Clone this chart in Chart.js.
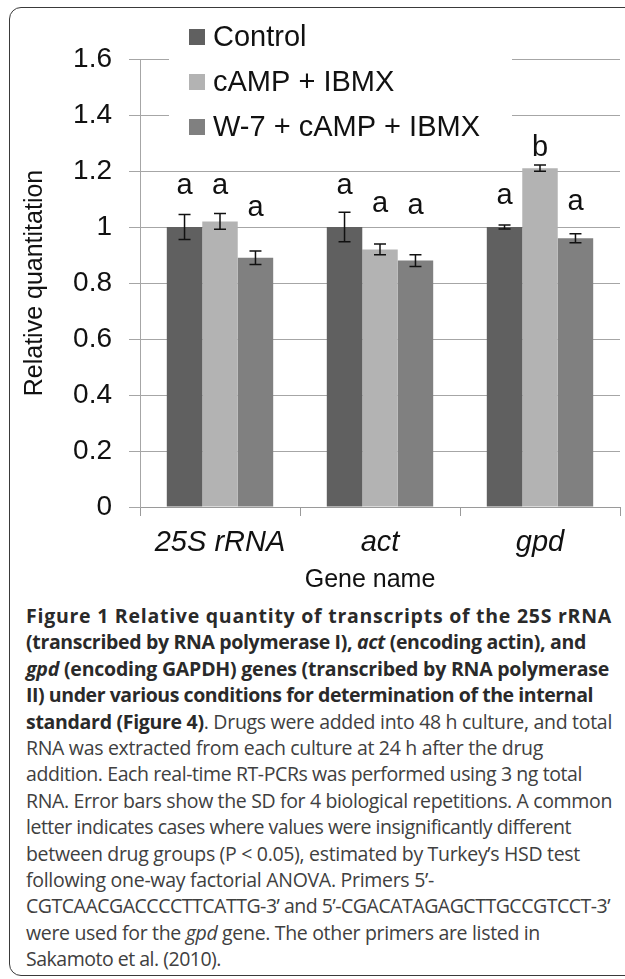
<!DOCTYPE html>
<html>
<head>
<meta charset="utf-8">
<script src="https://cdn.jsdelivr.net/npm/chart.js@4.4.1/dist/chart.umd.min.js"></script>
<style>
  html, body { margin: 0; padding: 0; background: #fff; width: 625px; height: 979px; overflow: hidden; }
  #frame { position: absolute; left: 9px; top: 7px; width: 660px; height: 969px; border: 1.5px solid #3a3a3a; border-radius: 12px; box-sizing: border-box; }
  #wrap { position: absolute; left: 0; top: 0; width: 625px; height: 600px; }
  #caption { position: absolute; left: 26px; top: 603px; font-family: "Open Sans", sans-serif; font-size: 19.5px; line-height: 26.4px; color: #404040; white-space: nowrap; }
  #caption div { display: block; width: max-content; }
  #caption b { font-weight: 700; color: #2a2a2a; }
</style>
</head>
<body>
<div id="frame"></div>
<div id="wrap"><canvas id="chart" width="625" height="600"></canvas></div>
<div id="caption">
<div data-right="612"><b>Figure 1 Relative quantity of transcripts of the 25S rRNA</b></div>
<div data-right="586"><b>(transcribed by RNA polymerase I), <i>act</i> (encoding actin), and</b></div>
<div data-right="609"><b><i>gpd</i> (encoding GAPDH) genes (transcribed by RNA polymerase</b></div>
<div data-right="593"><b>II) under various conditions for determination of the internal</b></div>
<div data-right="612"><b>standard (Figure 4)</b>. Drugs were added into 48 h culture, and total</div>
<div data-right="543">RNA was extracted from each culture at 24 h after the drug</div>
<div data-right="582">addition. Each real-time RT-PCRs was performed using 3 ng total</div>
<div data-right="612">RNA. Error bars show the SD for 4 biological repetitions. A common</div>
<div data-right="571">letter indicates cases where values were insignificantly different</div>
<div data-right="580">between drug groups (P &lt; 0.05), estimated by Turkey’s HSD test</div>
<div data-right="434">following one-way factorial ANOVA. Primers 5’-</div>
<div data-right="610">CGTCAACGACCCCTTCATTG-3’ and 5’-CGACATAGAGCTTGCCGTCCT-3’</div>
<div data-right="540">were used for the <i>gpd</i> gene. The other primers are listed in</div>
<div data-right="221">Sakamoto et al. (2010).</div>
</div>
<script>
// Genes and treatment groups
const genes = ['25S rRNA', 'act', 'gpd'];
const seriesNames = ['Control', 'cAMP + IBMX', 'W-7 + cAMP + IBMX'];

// Mean relative quantity per gene
const control = [1.00, 1.00, 1.00];
const campIbmx = [1.02, 0.92, 1.21];
const w7CampIbmx = [0.89, 0.88, 0.96];

// Standard deviations (4 biological repetitions)
const controlSD = [0.045, 0.053, 0.007];
const campIbmxSD = [0.028, 0.019, 0.011];
const w7CampIbmxSD = [0.024, 0.021, 0.016];

// Tukey HSD grouping letters
const controlLetters = ['a', 'a', 'a'];
const campIbmxLetters = ['a', 'a', 'b'];
const w7CampIbmxLetters = ['a', 'a', 'a'];

// Y-axis tick values
const yTicks = [0, 0.2, 0.4, 0.6, 0.8, 1.0, 1.2, 1.4, 1.6];

const FONT = '"Liberation Sans", Arial, sans-serif';

// Caption lines: spread each line to its wrap edge
(function fitCaption() {
  const box = document.getElementById('caption');
  const left = box.getBoundingClientRect().left;
  box.querySelectorAll('div[data-right]').forEach(line => {
    line.style.letterSpacing = '0px';
    const natural = line.getBoundingClientRect().width;
    const target = parseFloat(line.dataset.right) - left;
    const n = line.textContent.length;
    line.style.letterSpacing = ((target - natural) / n).toFixed(3) + 'px';
  });
})();

// Error bars with end caps
const errorBars = {
  id: 'errorBars',
  afterDatasetsDraw(chart) {
    const { ctx, scales: { y } } = chart;
    ctx.save();
    ctx.strokeStyle = '#111';
    ctx.lineWidth = 1.5;
    chart.data.datasets.forEach((ds, i) => {
      chart.getDatasetMeta(i).data.forEach((bar, j) => {
        const v = ds.data[j], sd = ds.sd[j];
        const yt = y.getPixelForValue(v + sd), yb = y.getPixelForValue(v - sd);
        const x = bar.x, cap = 6;
        ctx.beginPath();
        ctx.moveTo(x, yt); ctx.lineTo(x, yb);
        ctx.moveTo(x - cap, yt); ctx.lineTo(x + cap, yt);
        ctx.moveTo(x - cap, yb); ctx.lineTo(x + cap, yb);
        ctx.stroke();
      });
    });
    ctx.restore();
  }
};

// Significance letters above the bars
const groupLetters = {
  id: 'groupLetters',
  afterDatasetsDraw(chart, args, opts) {
    const { ctx, scales: { y } } = chart;
    ctx.save();
    ctx.fillStyle = '#111';
    ctx.font = opts.size + 'px ' + FONT;
    ctx.textAlign = 'center';
    ctx.textBaseline = 'alphabetic';
    chart.data.datasets.forEach((ds, i) => {
      chart.getDatasetMeta(i).data.forEach((bar, j) => {
        const yy = y.getPixelForValue(opts.baselines[i][j]);
        ctx.fillText(ds.letters[j], bar.x, yy);
      });
    });
    ctx.restore();
  }
};

// Legend on a white panel inside the plot
const boxLegend = {
  id: 'boxLegend',
  afterDraw(chart, args, opts) {
    const { ctx } = chart;
    ctx.save();
    ctx.fillStyle = '#fff';
    ctx.fillRect(opts.left, opts.top, opts.width, opts.height);
    ctx.font = opts.size + 'px ' + FONT;
    ctx.textBaseline = 'middle';
    ctx.textAlign = 'left';
    chart.data.datasets.forEach((ds, i) => {
      const cy = opts.firstY + i * opts.step;
      ctx.fillStyle = ds.backgroundColor;
      ctx.fillRect(opts.boxX, cy - opts.box / 2, opts.box, opts.box);
      ctx.fillStyle = '#111';
      ctx.fillText(ds.label, opts.boxX + opts.box + 8, cy + 1);
    });
    ctx.restore();
  }
};

// X-axis title, set slightly left of the plot centre
const xTitle = {
  id: 'xTitle',
  afterDraw(chart, args, opts) {
    const { ctx, chartArea } = chart;
    ctx.save();
    ctx.fillStyle = '#111';
    ctx.font = opts.size + 'px ' + FONT;
    ctx.textAlign = 'center';
    ctx.textBaseline = 'middle';
    ctx.fillText(opts.text, (chartArea.left + chartArea.right) / 2 + opts.shift, chartArea.bottom + opts.offset);
    ctx.restore();
  }
};

new Chart(document.getElementById('chart'), {
  type: 'bar',
  data: {
    labels: genes,
    datasets: [
      { label: seriesNames[0], data: control, sd: controlSD, letters: controlLetters, backgroundColor: '#606060' },
      { label: seriesNames[1], data: campIbmx, sd: campIbmxSD, letters: campIbmxLetters, backgroundColor: '#b3b3b3' },
      { label: seriesNames[2], data: w7CampIbmx, sd: w7CampIbmxSD, letters: w7CampIbmxLetters, backgroundColor: '#808080' }
    ]
  },
  options: {
    responsive: false,
    animation: false,
    devicePixelRatio: 1,
    layout: { padding: { top: 59, right: 5, bottom: 0, left: 0 } },
    datasets: { bar: { categoryPercentage: 0.665, barPercentage: 1, borderWidth: 0 } },
    plugins: {
      legend: { display: false },
      tooltip: { enabled: false },
      groupLetters: {
        size: 29,
        baselines: [[1.117, 1.117, 1.081], [1.117, 1.053, 1.254], [1.041, 1.045, 1.060]]
      },
      boxLegend: { left: 169, top: 10, width: 343, height: 140, boxX: 189, box: 16, firstY: 37, step: 45, size: 29 },
      xTitle: { text: 'Gene name', size: 25, shift: -10, offset: 73 }
    },
    scales: {
      x: {
        grid: { offset: true, drawOnChartArea: false, drawTicks: true, tickLength: 9, color: '#9a9a9a' },
        border: { color: '#9a9a9a' },
        ticks: { color: '#111', padding: 10, font: { family: FONT, size: 29, style: 'italic' } },
        afterFit(s) { s.height = 93; }
      },
      y: {
        min: 0, max: 1.6,
        afterBuildTicks(s) { s.ticks = yTicks.map(v => ({ value: v })); },
        grid: { color: '#a6a6a6', tickLength: 11 },
        border: { color: '#a6a6a6' },
        ticks: { color: '#111', padding: 17, font: { family: FONT, size: 28 }, callback: v => String(Math.round(v * 10) / 10) },
        title: { display: true, text: 'Relative quantitation', color: '#111', font: { family: FONT, size: 25 }, padding: { top: 20, bottom: 0 } },
        afterFit(s) { s.width = 140; }
      }
    }
  },
  plugins: [errorBars, groupLetters, boxLegend, xTitle]
});
</script>
</body>
</html>
